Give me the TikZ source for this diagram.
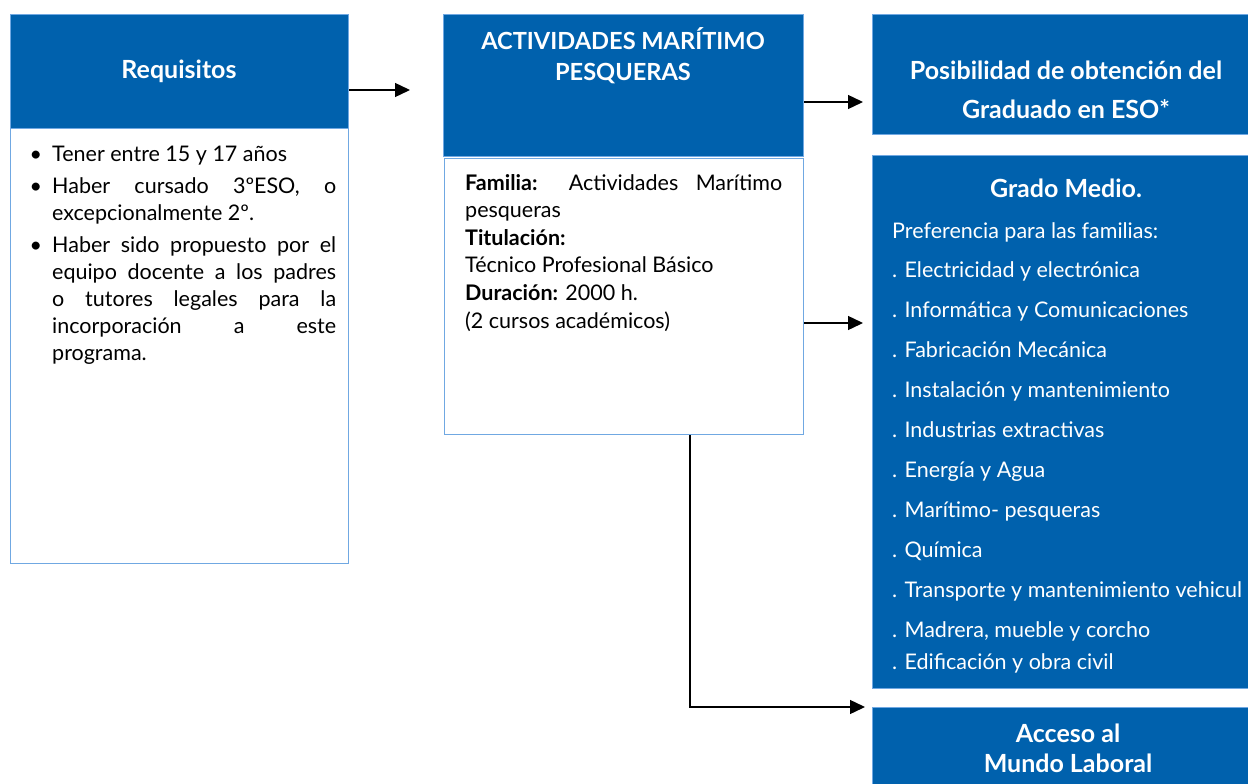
\documentclass[tikz,border=0pt]{standalone}
\usepackage{fontspec}
\setmainfont{Lato}
\usetikzlibrary{arrows.meta}
\definecolor{boxblue}{HTML}{0061AD}
\definecolor{edgeblue}{HTML}{70A8E2}
\newcommand{\blt}{\leavevmode\llap{\textbullet\hspace{10pt}}}
\begin{document}
\begin{tikzpicture}[x=1pt,y=-1pt,
  bluebox/.style={draw=edgeblue, line width=1pt, fill=boxblue, anchor=north west, inner sep=0pt},
  whitebox/.style={draw=edgeblue, line width=1pt, fill=white, anchor=north west, inner sep=0pt},
  headtxt/.style={text=white, font=\fontsize{25}{31}\selectfont\bfseries, align=center, inner sep=0pt, anchor=base},
  listtxt/.style={text=white, font=\fontsize{21.5}{24}\selectfont, inner sep=0pt, anchor=base west},
  bodytxt/.style={font=\fontsize{21.5}{27}\selectfont, inner sep=0pt, anchor=base west, align=justify},
  conn/.style={line width=1.4pt, -{Triangle[length=15pt,width=14pt]}},
]
\clip (0,0) rectangle (1248,784);
\useasboundingbox (0,0) rectangle (1248,784);

% boxes
\node[bluebox, minimum width=338pt, minimum height=114pt] (reqhead) at (10,14) {};
\node[whitebox, minimum width=338pt, minimum height=435pt] (reqbody) at (10,128) {};
\node[bluebox, minimum width=360pt, minimum height=142pt] (acthead) at (443,14) {};
\node[whitebox, minimum width=359pt, minimum height=276pt] (actbody) at (444,158) {};
\node[bluebox, minimum width=400pt, minimum height=120pt] (esobox) at (872,14) {};
\node[bluebox, minimum width=400pt, minimum height=533pt] (gmbox) at (872,155) {};
\node[bluebox, minimum width=400pt, minimum height=100pt] (labbox) at (872,707) {};

% headings
\node[headtxt] (reqtitle) at (179,79) {Requisitos};
\node[headtxt, font=\fontsize{23.6}{31}\selectfont\bfseries] (acttitle) at (623,81) {ACTIVIDADES MARÍTIMO\\PESQUERAS};
\node[headtxt, font=\fontsize{25}{39}\selectfont\bfseries] (esotitle) at (1066,118) {Posibilidad de obtención del\\Graduado en ESO*};
\node[headtxt] (gmtitle) at (1066,197) {Grado Medio.};
\node[headtxt, font=\fontsize{25}{30}\selectfont\bfseries] (labtitle) at (1068,772) {Acceso al\\Mundo Laboral};

% requisitos text
\node[bodytxt, text width=284pt] (reqtext) at (52,161) {\parskip=5pt
\blt Tener entre 15 y 17 años\par
\blt Haber cursado 3ºESO, o\linebreak excepcionalmente 2º.\par
\blt Haber sido propuesto por el\linebreak equipo docente a los padres\linebreak o tutores legales para la\linebreak incorporación a este\linebreak programa.};

% actividades text
\node[bodytxt, text width=317pt, font=\fontsize{21.5}{27.6}\selectfont] (acttext) at (465,190) {\textbf{Familia:} Actividades Marítimo\linebreak pesqueras\\
\textbf{Titulación:}\\
Técnico Profesional Básico\\
\textbf{Duración:} 2000 h.\\
(2 cursos académicos)};

% grado medio list
\node[listtxt] (gm0) at (892,238) {Preferencia para las familias:};
\node[listtxt] (gm1) at (892,277) {. Electricidad y electrónica};
\node[listtxt] (gm2) at (892,317) {. Informática y Comunicaciones};
\node[listtxt] (gm3) at (892,357) {. Fabricación Mecánica};
\node[listtxt] (gm4) at (892,397) {. Instalación y mantenimiento};
\node[listtxt] (gm5) at (892,437) {. Industrias extractivas};
\node[listtxt] (gm6) at (892,477) {. Energía y Agua};
\node[listtxt] (gm7) at (892,517) {. Marítimo- pesqueras};
\node[listtxt] (gm8) at (892,557) {. Química};
\node[listtxt] (gm9) at (892,597) {. Transporte y mantenimiento vehicul};
\node[listtxt] (gm10) at (892,637) {. Madrera, mueble y corcho};
\node[listtxt] (gm11) at (892,669) {. Edificación y obra civil};

% connectors
\coordinate (reqend) at (410,90);
\coordinate (esoin) at (863,102);
\coordinate (gmin) at (863,323);
\coordinate (labturn) at (690,707);
\coordinate (labin) at (865,707);
\draw[conn] (reqhead.east |- reqend) -- (reqend);
\draw[conn] (acthead.east |- esoin) -- (esoin);
\draw[conn] (actbody.east |- gmin) -- (gmin);
\draw[conn] (actbody.south -| labturn) -- (labturn) -- (labin);
\end{tikzpicture}
\end{document}
